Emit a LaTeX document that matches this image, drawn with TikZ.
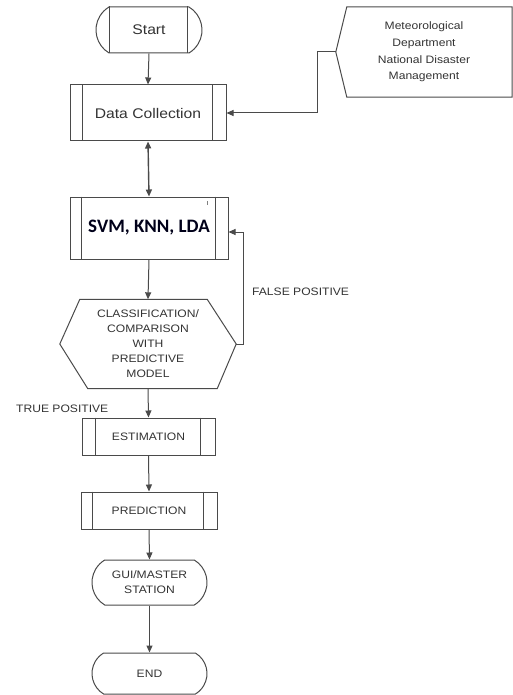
\documentclass[tikz,border=0pt]{standalone}
\usepackage{fontspec}
\setmainfont[FakeStretch=1.12]{Liberation Sans}
\newfontfamily\calib{Carlito}
\usetikzlibrary{arrows.meta,shapes.misc,calc}

\definecolor{linegray}{HTML}{4A4A4A}
\definecolor{textgray}{HTML}{333333}

% draws the two inner side bars of a "predefined process" box
\newcommand\sidebars[3]{%
  \draw[outline] ([xshift=#2]#1.north west) -- ([xshift=#2]#1.south west);
  \draw[outline] ([xshift=-#3]#1.north east) -- ([xshift=-#3]#1.south east);}

\begin{document}
\begin{tikzpicture}[x=1pt,y=-1pt,
  outline/.style={draw=linegray,line width=1pt},
  flow/.style={draw=linegray,line width=1pt,-{Triangle[length=7pt,width=6pt]}},
  bigtxt/.style={font=\fontsize{14}{16}\selectfont,text=textgray},
  smalltxt/.style={font=\fontsize{10.8}{15}\selectfont,text=textgray,align=center},
  procbox/.style={outline,rectangle,inner sep=0pt},
  capsule/.style={outline,rounded rectangle,rounded rectangle arc length=118,inner sep=0pt},
  plain/.style={inner sep=0pt,minimum width=#1},
]
\useasboundingbox (0,0) rectangle (513,695);

% terminals
\node[capsule,minimum width=106pt,minimum height=46pt,bigtxt] (start) at (149,30) {Start};
\draw[outline] ([xshift=-40pt]start.north) -- ([xshift=-40pt]start.south);
\draw[outline] ([xshift=38pt]start.north) -- ([xshift=38pt]start.south);

% process boxes
\node[procbox,minimum width=156pt,minimum height=56pt,bigtxt] (dc) at (148,113) {Data Collection};
\sidebars{dc}{13pt}{14pt}

\node[procbox,minimum width=158pt,minimum height=62pt,font=\calib\bfseries\fontsize{19}{21}\selectfont,text=black!90!blue] (svm) at (149,228) {SVM, KNN, LDA};
\sidebars{svm}{12pt}{13pt}
\draw[gray,line width=0.5pt] (207,201) -- (207,205);

% data sources
\node[inner sep=0pt,minimum width=176pt,minimum height=90pt,font=\fontsize{10.8}{16.7}\selectfont,text=textgray,align=center] (met) at (424,52)
  {Meteorological\\Department\\National Disaster\\Management};
\draw[outline] (met.west) -- ([xshift=11pt]met.north west) -- (met.north east)
  -- (met.south east) -- ([xshift=11pt]met.south west) -- cycle;

% decision hexagon
\node[inner sep=0pt,minimum width=176pt,minimum height=89pt,smalltxt] (cls) at (148,344)
  {CLASSIFICATION/\\COMPARISON\\WITH\\PREDICTIVE\\MODEL};
\draw[outline] (cls.west) -- ([xshift=20pt]cls.north west) -- ([xshift=-29pt]cls.north east)
  -- (cls.east) -- ([xshift=-19pt]cls.south east) -- ([xshift=28pt]cls.south west) -- cycle;

\node[procbox,minimum width=133pt,minimum height=37pt,smalltxt] (est) at (148.5,436.5) {ESTIMATION};
\sidebars{est}{14pt}{15pt}

\node[procbox,minimum width=136pt,minimum height=37pt,smalltxt] (pred) at (149,510.5) {PREDICTION};
\sidebars{pred}{12pt}{14pt}

\node[capsule,minimum width=115pt,minimum height=45pt,smalltxt] (gui) at (149.5,582.5) {GUI/MASTER\\STATION};
\node[capsule,minimum width=115pt,minimum height=41pt,smalltxt] (end) at (149.5,673.5) {END};

% labels
\node[anchor=west,inner sep=0pt,smalltxt] (fp) at (252,292) {FALSE POSITIVE};
\node[anchor=west,inner sep=0pt,smalltxt] (tp) at (16,409) {TRUE POSITIVE};

% connectors
\coordinate (srcbend) at (317,52);
\coordinate (fbbend) at (243,344);
\draw[flow] (start.south) -- (dc.north);
\draw[flow] (met.west) -- (srcbend) |- (dc.east);
\draw[flow,line width=1.4pt,{Triangle[length=7pt,width=6pt]}-{Triangle[length=7pt,width=6pt]}] (dc.south) -- (svm.north);
\draw[flow] (svm.south) -- (cls.north);
\draw[flow] (cls.east) -- (fbbend) |- ([yshift=-4pt]svm.east);
\draw[flow] (cls.south) -- (est.north);
\draw[flow] (est.south) -- (pred.north);
\draw[flow] (pred.south) -- (gui.north);
\draw[flow] (gui.south) -- (end.north);
\end{tikzpicture}
\end{document}
